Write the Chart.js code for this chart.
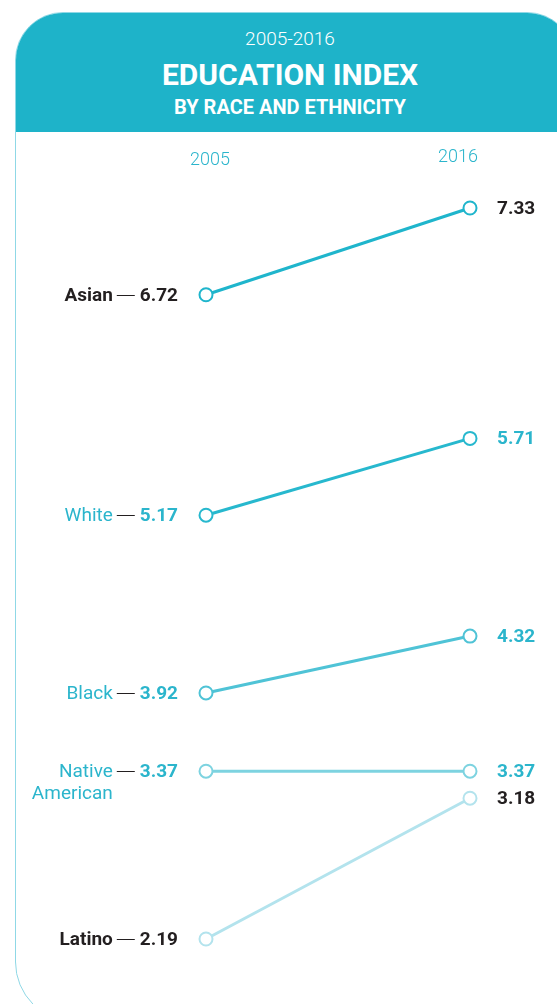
<!DOCTYPE html>
<html lang="en">
<head>
    <meta charset="UTF-8">
    <title>Education Index</title>
    <script src="https://cdn.jsdelivr.net/npm/chart.js@4.4.1/dist/chart.umd.min.js"></script>
    <style>
        html, body { margin: 0; padding: 0; background: #fff; overflow: hidden; }
        body { width: 557px; height: 1004px; position: relative; font-family: Roboto, "Noto Sans", sans-serif; }
        .card {
            position: absolute; left: 15px; top: 12px; width: 560px; height: 1010px;
            border: 1px solid #8fd8e6; border-radius: 48px 48px 60px 60px;
            box-sizing: border-box; overflow: hidden;
        }
        .header {
            background: #1eb3c9; color: #fff; height: 119px; text-align: center;
            padding-right: 10px;
        }
        .header .years { font-weight: 300; font-size: 19px; padding-top: 15px; line-height: 22px; }
        .header .title { font-weight: 700; font-size: 30px; line-height: 32px; margin-top: 9px; }
        .header .sub { font-weight: 700; font-size: 20px; line-height: 22px; margin-top: 5px; }
        canvas { position: absolute; left: 0; top: 0; }
    </style>
</head>
<body>
<div class="card">
    <div class="header">
        <div class="years">2005-2016</div>
        <div class="title">EDUCATION INDEX</div>
        <div class="sub">BY RACE AND ETHNICITY</div>
    </div>
</div>
<canvas id="chart" width="557" height="1004"></canvas>

<script>
    // data
    const years = ['2005', '2016'];
    const groups = ['Asian', 'White', 'Black', 'Native American', 'Latino'];
    const values2005 = [6.72, 5.17, 3.92, 3.37, 2.19];
    const values2016 = [7.33, 5.71, 4.32, 3.37, 3.18];

    // styling
    const lineColors = ['#1fb5cc', '#27b8ce', '#4fc3d6', '#7dd3e0', '#b3e3ed'];
    const nameColors = ['#231f20', '#2bb5cc', '#2bb5cc', '#2bb5cc', '#231f20'];
    const nameWeights = [700, 400, 400, 400, 700];
    const leftValColors = ['#231f20', '#2bb5cc', '#2bb5cc', '#2bb5cc', '#231f20'];
    const rightValColors = ['#231f20', '#2bb5cc', '#2bb5cc', '#2bb5cc', '#231f20'];
    const teal = '#2bb5cc';
    const dark = '#231f20';

    const labelPlugin = {
        id: 'slopeLabels',
        afterDatasetsDraw(chart) {
            const ctx = chart.ctx;
            const xs = chart.scales.x;
            ctx.save();

            // year headings
            ctx.fillStyle = teal;
            ctx.font = '300 18px Roboto';
            ctx.textBaseline = 'middle';
            ctx.textAlign = 'center';
            ctx.fillText(years[0], xs.getPixelForValue(0) + 4, 160);
            ctx.fillText(years[1], xs.getPixelForValue(1) - 12, 157);

            chart.data.datasets.forEach((ds, i) => {
                const meta = chart.getDatasetMeta(i);
                const p0 = meta.data[0];
                const p1 = meta.data[1];

                // left value
                const valRight = p0.x - 28;
                const y = p0.y + 1;
                ctx.font = '700 19px Roboto';
                ctx.textAlign = 'right';
                ctx.fillStyle = leftValColors[i];
                const valText = values2005[i].toFixed(2);
                ctx.fillText(valText, valRight, y);
                const w = ctx.measureText(valText).width;

                // dash
                const dashEnd = valRight - w - 5;
                const dashStart = dashEnd - 18;
                ctx.strokeStyle = dark;
                ctx.lineWidth = 1;
                ctx.beginPath();
                ctx.moveTo(dashStart, Math.round(y) - 0.5);
                ctx.lineTo(dashEnd, Math.round(y) - 0.5);
                ctx.stroke();

                // group name
                ctx.font = nameWeights[i] + ' 19px Roboto';
                ctx.fillStyle = nameColors[i];
                const parts = groups[i] === 'Native American' ? ['Native', 'American'] : [groups[i]];
                parts.forEach((t, k) => ctx.fillText(t, dashStart - 4, y + k * 22));

                // right value
                ctx.font = '700 19px Roboto';
                ctx.textAlign = 'left';
                ctx.fillStyle = rightValColors[i];
                ctx.fillText(values2016[i].toFixed(2), p1.x + 27, p1.y + 1);
            });
            ctx.restore();
        }
    };

    new Chart(document.getElementById('chart'), {
        type: 'line',
        data: {
            labels: years,
            datasets: groups.map((g, i) => ({
                label: g,
                data: [values2005[i], values2016[i]],
                borderColor: lineColors[i],
                borderWidth: 3,
                pointRadius: 6.5,
                pointBorderWidth: 2,
                pointBackgroundColor: '#fff',
                pointBorderColor: lineColors[i],
                clip: false,
                order: groups.length - i
            }))
        },
        options: {
            responsive: false,
            animation: false,
            layout: { padding: { left: 206, right: 87, top: 208, bottom: 65 } },
            scales: {
                x: { type: 'category', display: false, offset: false },
                y: { display: false, min: 2.19, max: 7.33 }
            },
            plugins: { legend: { display: false }, tooltip: { enabled: false } }
        },
        plugins: [labelPlugin]
    });
</script>
</body>
</html>
